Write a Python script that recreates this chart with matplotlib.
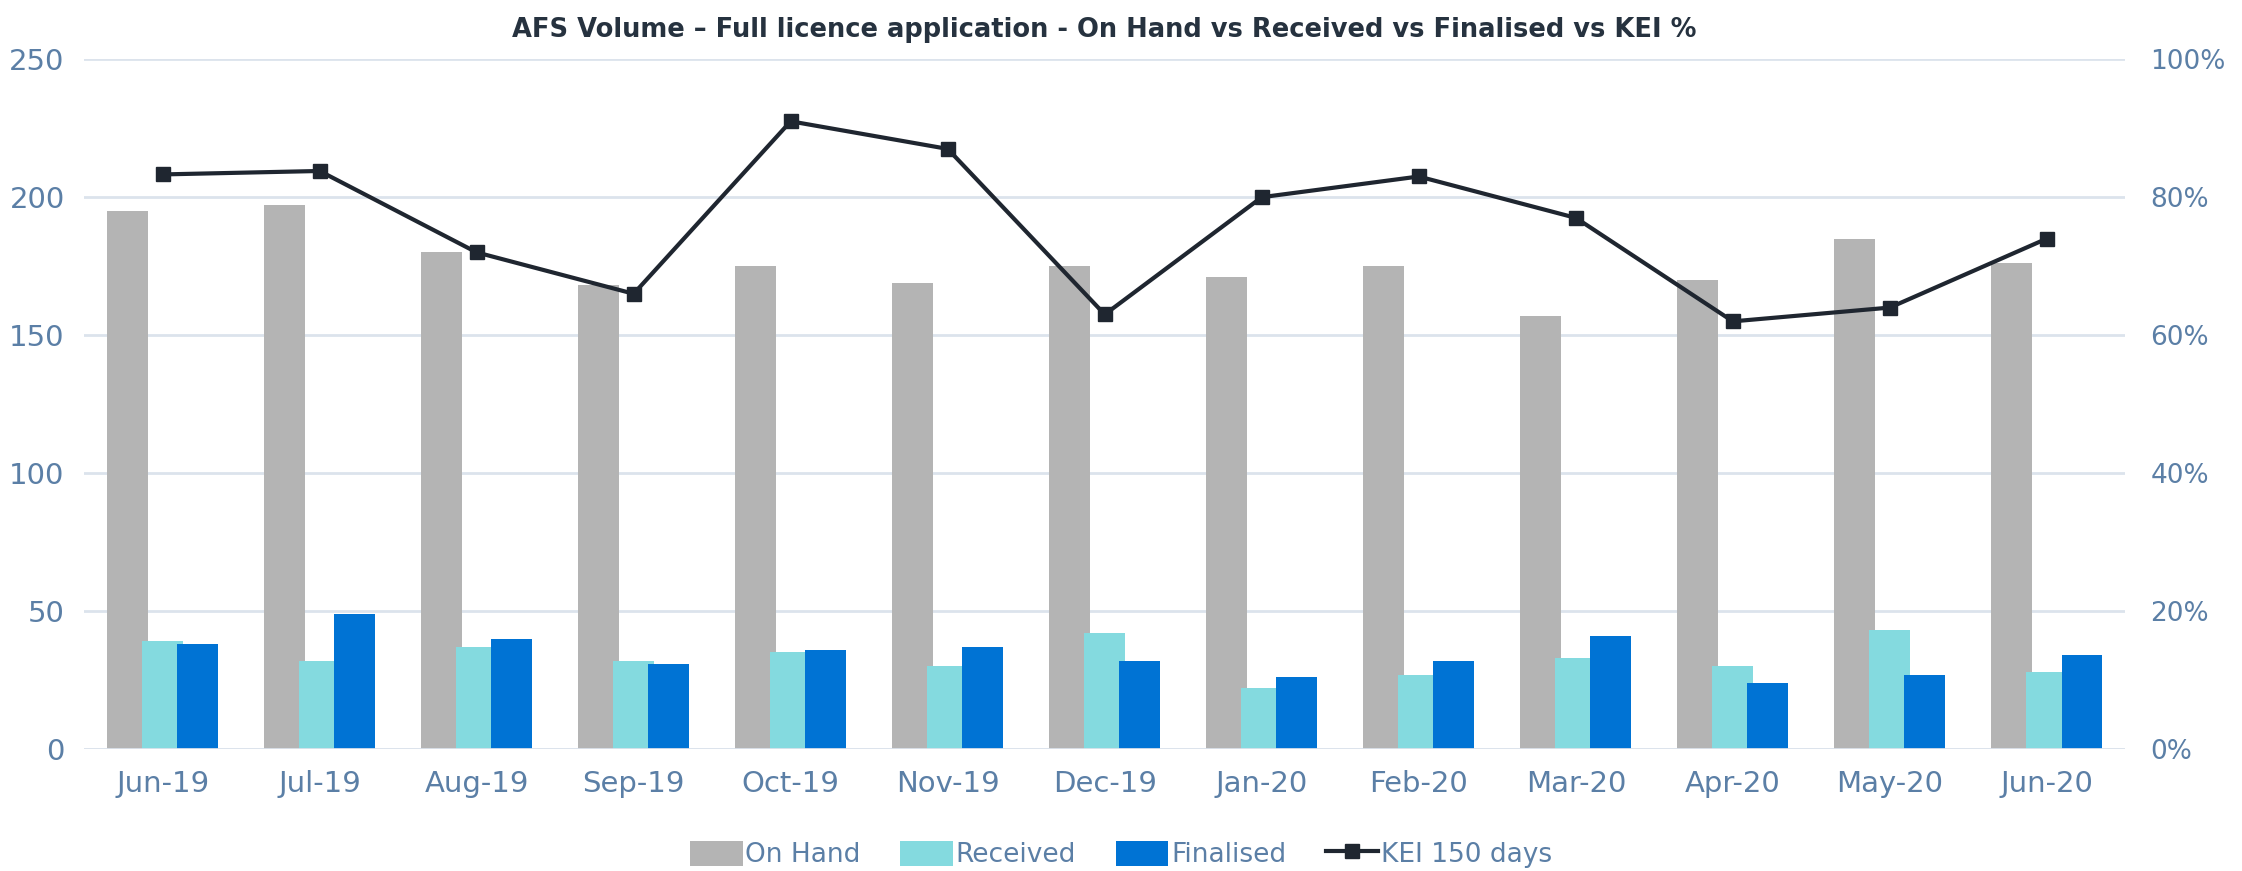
import numpy as np
import matplotlib.pyplot as plt
from matplotlib.ticker import PercentFormatter

# data
months = ["Jun-19", "Jul-19", "Aug-19", "Sep-19", "Oct-19", "Nov-19", "Dec-19",
          "Jan-20", "Feb-20", "Mar-20", "Apr-20", "May-20", "Jun-20"]
on_hand = [195, 197, 180, 168, 175, 169, 175, 171, 175, 157, 170, 185, 176]
received = [39, 32, 37, 32, 35, 30, 42, 22, 27, 33, 30, 43, 28]
finalised = [38, 49, 40, 31, 36, 37, 32, 26, 32, 41, 24, 27, 34]
kei_pct = [83.3, 83.8, 72, 66, 91, 87, 63, 80, 83, 77, 62, 64, 74]

c_hand = "#B4B4B4"
c_recv = "#84DADF"
c_fin = "#0073D4"
c_line = "#1F2630"
c_tick = "#5B7FA6"
c_grid = "#DCE3EC"

fig = plt.figure(figsize=(22.42, 8.71), dpi=100)
ax = fig.add_axes([0.0375, 0.140, 0.9105, 0.792])
ax2 = ax.twinx()

x = np.arange(len(months))
w = 0.26
off = 0.223

ax.bar(x - off, on_hand, w, color=c_hand, label="On Hand", zorder=2)
ax.bar(x, received, w, color=c_recv, label="Received", zorder=3)
ax.bar(x + off, finalised, w, color=c_fin, label="Finalised", zorder=4)

ax2.plot(x, kei_pct, color=c_line, lw=3, marker="s", markersize=10,
         label="KEI 150 days", zorder=5)

ax.set_xlim(-0.5, len(months) - 0.5)
ax.set_ylim(0, 250)
ax.set_yticks(np.arange(0, 251, 50))
ax2.set_ylim(0, 100)
ax2.set_yticks(np.arange(0, 101, 20))
ax2.yaxis.set_major_formatter(PercentFormatter(decimals=0))

ax.set_xticks(x)
ax.set_xticklabels(months)

ax.grid(axis="y", color=c_grid, lw=2, zorder=0)
ax.axhline(0, color=c_grid, lw=2, zorder=6)
ax.set_axisbelow(True)

for a in (ax, ax2):
    for s in a.spines.values():
        s.set_visible(False)
    a.tick_params(length=0, labelsize=19, labelcolor=c_tick)
ax.tick_params(axis="x", labelsize=21, pad=15)
ax.tick_params(axis="y", labelsize=21, pad=14)
ax2.tick_params(axis="y", pad=18)

ax.set_title("AFS Volume \u2013 Full licence application - On Hand vs Received vs Finalised vs KEI %",
             fontsize=18.5, fontweight="bold", color="#26323F", pad=16)

h1, l1 = ax.get_legend_handles_labels()
h2, l2 = ax2.get_legend_handles_labels()
leg = fig.legend(h1 + h2, l1 + l2, loc="lower center", bbox_to_anchor=(0.5, -0.012),
                 ncol=4, frameon=False, fontsize=19, handlelength=2.0,
                 handleheight=1.1, handletextpad=0.1, columnspacing=1.5,
                 borderaxespad=0.1)
for t in leg.get_texts():
    t.set_color(c_tick)

fig.savefig("out.png", dpi=100)
